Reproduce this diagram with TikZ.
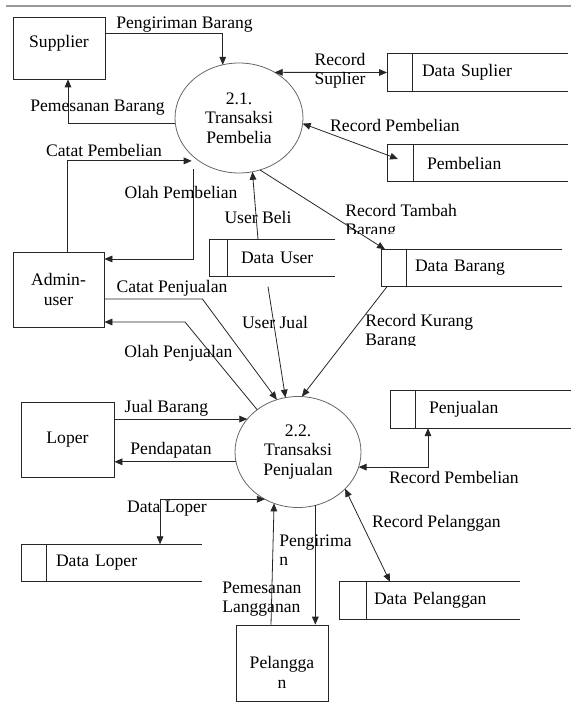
\documentclass[tikz,border=0pt]{standalone}
\usepackage{fontspec}
\setmainfont{Liberation Serif}
\usetikzlibrary{shapes.geometric,arrows.meta}

\begin{document}
\begin{tikzpicture}[x=0.75pt,y=-0.75pt,font=\fontsize{13.2}{14.5}\selectfont]
\tikzstyle{entitas}=[draw=black!85, line width=0.6pt, minimum width=69pt, minimum height=56.25pt, inner sep=0pt, align=center]
\tikzstyle{proses}=[draw=black!60, line width=0.6pt, ellipse, inner sep=0pt, outer sep=0pt, align=center]
\tikzstyle{simpan}=[minimum height=28pt, inner sep=0pt, outer sep=0pt, text width=135.75pt, align=left]
\tikzstyle{teks}=[inner sep=0pt, align=center]
\tikzstyle{alur}=[draw=black!85, line width=0.6pt, -{Triangle[length=6pt,width=5pt]}]
\tikzstyle{alur2}=[alur, {Triangle[length=6pt,width=5pt]}-{Triangle[length=6pt,width=5pt]}]
\useasboundingbox (0,0) rectangle (571,702);
\draw[black!40, line width=1.5pt] (6,6) -- (571,6);

\node[entitas, minimum height=46.5pt, label={[name=suptxt, yshift=3.75pt]center:Supplier}] (sup) at (59,48) {};
\node[entitas, minimum width=68.25pt] (adm) at (58.5,289.5) {Admin-\\user};
\node[entitas, minimum width=69.75pt] (lop) at (67.5,439.5) {Loper};
\node[entitas, minimum height=57pt, label={[name=peltxt, align=center, yshift=-7pt]center:{Pelangga\\n}}] (pel) at (282,663) {};

\node[proses, minimum width=96pt, minimum height=82.5pt] (p21) at (239,118) {2.1.\\Transaksi\\Pembelia};
\node[proses, minimum width=94.5pt, minimum height=83.25pt] (p22) at (298,452) {2.2.\\Transaksi\\Penjualan};

\node[simpan] (dsup) at (477.5,72.5) {\hspace*{26.25pt}Data Suplier};
\node[simpan] (pemb) at (477.5,163) {\hspace*{30pt}Pembelian};
\node[simpan, text width=94.5pt] (duser) at (272,258) {\hspace*{24pt}Data User};
\node[simpan] (dbar) at (471.5,268) {\hspace*{25.5pt}Data Barang};
\node[simpan] (penj) at (480.5,409.5) {\hspace*{29.25pt}Penjualan};
\node[simpan] (dlop) at (111.5,563) {\hspace*{26.25pt}Data Loper};
\node[simpan] (dpel) at (429.5,600.5) {\hspace*{26.25pt}Data Pelanggan};
\foreach \s/\d in {dsup/18.75, pemb/19.5, duser/13.5, dbar/18.75, penj/18.75, dlop/18.75, dpel/20.25}
  \draw[black!85, line width=0.6pt] (\s.north east) -- (\s.north west) -- (\s.south west) -- (\s.south east)
    ([xshift=\d pt]\s.north west) -- ([xshift=\d pt]\s.south west);

\draw[alur] ([yshift=11.25pt]sup.east) -| (p21.107);
\draw[alur] (p21.185) -| ([xshift=6.75pt]sup.south);
\draw[alur] ([xshift=6.75pt]adm.north) |- ([xshift=-1.5pt,yshift=-3pt]p21.south west);
\draw[alur] ([yshift=-9pt]p21.south west) |- ([yshift=22.9pt]adm.east);
\draw[alur] ([xshift=-10.5pt]duser.north) -- (p21.284);
\draw[alur2] (p21.52) -- (dsup.west);
\draw[alur2] (p21.355) -- ([xshift=8.25pt,yshift=3pt]pemb.west);
\draw[alur] (p21.292) -- ([xshift=3pt]dbar.north west);
\draw[alur] ([xshift=4.5pt]dbar.south west) -- (p22.86);
\draw[alur] ([xshift=-3pt,yshift=-7.5pt]duser.south) -- (p22.103);
\draw[alur] ([yshift=-7.1pt]adm.east) -- ++(98,0) -- (p22.112);
\draw[alur] (p22.134) -- (185,322) -- ([yshift=-24.4pt]adm.east);
\draw[alur] (lop.east |- p22.147) -- (p22.147);
\draw[alur] (p22.189) -- (lop.east |- p22.189);
\draw[alur2] ([xshift=36.4pt]dlop.north) |- (p22.235);
\draw[alur] ([xshift=-8.25pt]pel.north) -- (p22.245);
\draw[alur] (p22.288) -- (p22.288 |- pel.north);
\draw[alur2] ([xshift=-39.4pt]penj.south) |- (p22.346);
\draw[alur2] (p22.322) -- ([xshift=-29.6pt]dpel.north);

\node[teks] (lkirimbrg) at (184.5,25) {Pengiriman Barang};
\node[teks] (lpesanbrg) at (97.5,108) {Pemesanan Barang};
\node[teks] (lcatatbeli) at (104,150) {Catat Pembelian};
\node[teks] (lolahbeli) at (181,192) {Olah Pembelian};
\node[teks] (luserbeli) at (258,217) {User Beli};
\node[teks] (lrecsup) at (340,71) {Record\\Suplier};
\node[teks] (lrecbeli) at (395,125) {Record Pembelian};
\begin{scope}
\clip (340,200) rectangle (480,233);
\node[teks, anchor=west, align=left] (ltambah) at (345,221.5) {Record Tambah\\Barang};
\end{scope}
\node[teks] (luserjual) at (275,322) {User Jual};
\node[teks] (lcatatjual) at (172,288) {Catat Penjualan};
\node[teks] (lolahjual) at (178.5,353) {Olah Penjualan};
\begin{scope}
\clip (360,305) rectangle (490,345);
\node[teks, anchor=west, align=left] (lkurang) at (365,331.5) {Record Kurang\\Barang};
\end{scope}
\node[teks] (ljual) at (166.5,408) {Jual Barang};
\node[teks] (ldapat) at (171,450) {Pendapatan};
\node[teks] (ldatalop) at (167,509) {Data Loper};
\node[teks] (lrecbeli2) at (454,477) {Record Pembelian};
\node[teks] (lrecpel) at (436.5,523) {Record Pelanggan};
\node[teks, anchor=west, align=left] (lkirim) at (279,550) {Pengirima\\n};
\node[teks, anchor=west, align=left] (lpesanlgn) at (222,599) {Pemesanan\\Langganan};
\end{tikzpicture}
\end{document}
